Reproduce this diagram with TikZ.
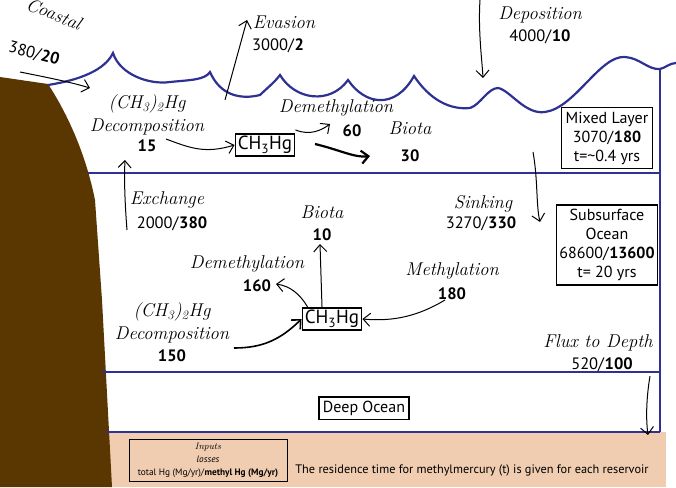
\documentclass[tikz,border=0pt]{standalone}
\usepackage{fontspec}
\setsansfont{PT Sans}
\usetikzlibrary{arrows.meta}
\definecolor{sea}{HTML}{2E3192}
\definecolor{land}{HTML}{5A3600}
\definecolor{tan}{HTML}{F0CDB0}
\begin{document}
\begin{tikzpicture}[x=1pt,y=-1pt,
  hand/.style={font=\itshape\fontsize{18.5}{18}\selectfont},
  num/.style={font=\sffamily\fontsize{16.5}{16}\selectfont},
  fl/.style={-{Straight Barb[length=7pt,width=13pt]},line width=1pt},
  boxn/.style={draw,line width=1.6pt,font=\sffamily\fontsize{16}{19}\selectfont,align=center,inner sep=3pt},
  sealine/.style={sea,line width=2.2pt}]
\useasboundingbox (0,0) rectangle (676,487);
% tan bottom
\fill[tan] (0,432) rectangle (666,487);
% land
\fill[land] (0,77) -- (48,84) .. controls (65,110) and (85,150) .. (95,200) -- (102,300) -- (112,487) -- (0,487) -- cycle;
% sea lines
\draw[sealine] (48,85) .. controls (80,80) and (105,70) .. (113,53) .. controls (120,75) and (150,85) .. (170,82)
  .. controls (190,80) and (205,80) .. (210,72) .. controls (220,95) and (240,100) .. (260,95)
  .. controls (265,90) and (275,82) .. (280,75) .. controls (295,100) and (330,105) .. (348,80)
  .. controls (365,105) and (395,110) .. (414,76) .. controls (430,100) and (450,110) .. (470,108)
  .. controls (480,105) and (488,88) .. (498,88) .. controls (510,90) and (525,115) .. (545,112)
  .. controls (575,108) and (600,55) .. (625,57) .. controls (640,58) and (648,70) .. (660,69)
  .. controls (665,68) and (670,63) .. (676,63);
\draw[sealine] (660,69) -- (660,432);
\draw[sealine] (88,173) -- (660,173);
\draw[sealine] (102,372) -- (660,372);
\draw[sealine] (106,432) -- (660,432);
% boxes
\node[boxn,minimum width=91pt,minimum height=61pt] (ml) at (607,138) {Mixed Layer\\3070/\textbf{180}\\t=\textasciitilde0.4 yrs};
\node[boxn,minimum width=91pt,minimum height=80pt] (ss) at (607,245) {Subsurface\\Ocean\\68600/\textbf{13600}\\t= 20 yrs};
\node[boxn,font=\sffamily\fontsize{19}{19}\selectfont,inner sep=2.5pt] (mh1) at (265,145) {CH\textsubscript{3}Hg};
\node[boxn,font=\sffamily\fontsize{19}{19}\selectfont,inner sep=2.5pt] (mh2) at (332,319) {CH\textsubscript{3}Hg};
\node[boxn,inner sep=4pt] (deep) at (364,408) {Deep Ocean};
\node[draw,thick,align=center,inner sep=1pt,minimum width=158pt,minimum height=42pt,font=\sffamily\fontsize{9.3}{13}\selectfont] (leg) at (208,460)
  {\textit{\rmfamily Inputs}\\\textit{losses}\\total Hg (Mg/yr)/\textbf{methyl Hg (Mg/yr)}};
\node[font=\sffamily\fontsize{12.3}{12}\selectfont] (res) at (472,470) {The residence time for methylmercury (t) is given for each reservoir};
% labels
\node[hand,rotate=-22,inner sep=0pt] (coast) at (54,14) {Coastal};
\node[num,rotate=-15,inner sep=0pt] (coastn) at (34,54) {380/\textbf{20}};
\node[hand] (eva) at (284,22) {Evasion};
\node[num] (evan) at (278,46) {3000/\textbf{2}};
\node[hand] (dep) at (540,15) {Deposition};
\node[num] (depn) at (540,37) {4000/\textbf{10}};
\node[hand,align=center,font=\itshape\fontsize{18.5}{23}\selectfont] (dc1) at (147,115) {(CH\textsubscript{3})\textsubscript{2}Hg\\Decomposition};
\node[num] (dc1n) at (147,146) {\textbf{15}};
\node[hand] (dm1) at (336,108) {Demethylation};
\node[num] (dm1n) at (352,131) {\textbf{60}};
\node[hand] (bi1) at (410,128) {Biota};
\node[num] (bi1n) at (410,156) {\textbf{30}};
\node[hand] (sink) at (483,204) {Sinking};
\node[num] (sinkn) at (481,224) {3270/\textbf{330}};
\node[hand] (ex) at (167,200) {Exchange};
\node[num] (exn) at (172,224) {2000/\textbf{380}};
\node[hand] (bi2) at (322,212) {Biota};
\node[num] (bi2n) at (322,235) {\textbf{10}};
\node[hand] (dm2) at (247,264) {Demethylation};
\node[num] (dm2n) at (257,286) {\textbf{160}};
\node[hand] (me) at (452,271) {Methylation};
\node[num] (men) at (452,294) {\textbf{180}};
\node[hand,align=center,font=\itshape\fontsize{18.5}{23}\selectfont] (dc2) at (172,323) {(CH\textsubscript{3})\textsubscript{2}Hg\\Decomposition};
\node[num] (dc2n) at (172,356) {\textbf{150}};
\node[hand] (fd) at (598,343) {Flux to Depth};
\node[num] (fdn) at (602,365) {520/\textbf{100}};
% arrows
\coordinate (c1) at (20,72); \coordinate (c2) at (90,88);
\draw[fl] (c1) .. controls (50,78) and (70,82) .. (c2);
\coordinate (e1) at (225,100); \coordinate (e2) at (247,20);
\draw[fl] (e1) -- (e2);
\coordinate (d1) at (480,0); \coordinate (d2) at (483,78);
\draw[fl] (d1) .. controls (478,30) and (482,60) .. (d2);
\coordinate (k1) at (166,139);
\draw[fl] (k1) .. controls (190,148) and (205,154) .. (mh1.west);
\coordinate (dm1t) at (330,124);
\draw[fl] (mh1.north east) ++(0,-3) coordinate (a1) .. controls (310,136) and (322,130) .. (dm1t);
\coordinate (b1a) at (315,144); \coordinate (b1b) at (370,156);
\draw[fl,line width=2.2pt] (b1a) .. controls (340,150) and (355,158) .. (b1b);
\coordinate (s1) at (533,152); \coordinate (s2) at (540,222);
\draw[fl] (s1) .. controls (538,180) and (536,205) .. (s2);
\coordinate (x1) at (127,230); \coordinate (x2) at (125,160);
\draw[fl] (x1) .. controls (125,205) and (124,180) .. (x2);
\coordinate (b2) at (320,244);
\draw[fl] (mh2.north) ++(-10,0) coordinate (a2) -- (b2);
\coordinate (dm2t) at (276,284);
\draw[fl] (mh2.north west) ++(6,0) coordinate (a3) .. controls (300,294) and (290,286) .. (dm2t);
\coordinate (m1) at (445,300);
\draw[fl] (m1) .. controls (420,315) and (395,322) .. (mh2.east);
\coordinate (k2) at (234,348);
\draw[fl,line width=1.6pt] (k2) .. controls (262,348) and (280,340) .. (mh2.west);
\coordinate (f1) at (650,376); \coordinate (f2) at (648,435);
\draw[fl] (f1) .. controls (646,400) and (646,420) .. (f2);
\end{tikzpicture}
\end{document}
